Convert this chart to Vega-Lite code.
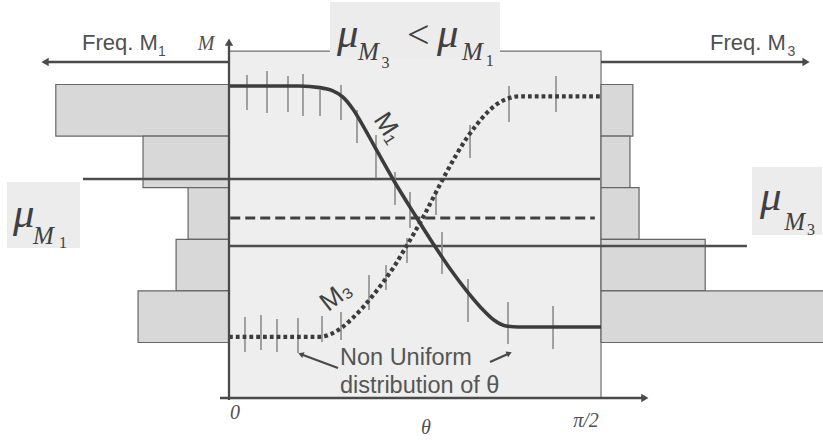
{
  "$schema": "https://vega.github.io/schema/vega-lite/v6.json",
  "width": 823,
  "height": 440,
  "padding": 0,
  "autosize": {"type": "none"},
  "background": "#ffffff",
  "config": {"view": {"stroke": null}, "axis": {"disable": true}, "legend": {"disable": true}},
  "datasets": {
    "label_boxes": [
      {"label": "title", "t0": 24.44, "t1": 65.56, "m0": 55.33, "m1": 65.99},
      {"label": "mu_M1", "t0": -53.71, "t1": -36.05, "m0": 18.31, "m1": 31.1},
      {"label": "mu_M3", "t0": 126.53, "t1": 143.5, "m0": 20.83, "m1": 34.01}
    ],
    "bins": [
      {"series": "M1", "lo": 40, "hi": 50, "freq": 41.9},
      {"series": "M1", "lo": 30, "hi": 40, "freq": 20.8},
      {"series": "M1", "lo": 20, "hi": 30, "freq": 9.9},
      {"series": "M1", "lo": 10, "hi": 20, "freq": 12.8},
      {"series": "M1", "lo": 0, "hi": 10, "freq": 22.0},
      {"series": "M3", "lo": 40, "hi": 50, "freq": 7.7},
      {"series": "M3", "lo": 30, "hi": 40, "freq": 7.0},
      {"series": "M3", "lo": 20, "hi": 30, "freq": 9.2},
      {"series": "M3", "lo": 10, "hi": 20, "freq": 25.2},
      {"series": "M3", "lo": 0, "hi": 10, "freq": 54.0}
    ],
    "levels": [
      {"level": "mu_M1", "M": 31.69, "from": -35.32, "to": 89.76},
      {"level": "mu_M3", "M": 18.7, "from": 0.24, "to": 125.3},
      {"level": "crossing", "M": 24.13, "from": 0.3, "to": 88.5}
    ],
    "curves": [
      {"curve": "M1", "theta": 0, "M": 49.7},
      {"curve": "M1", "theta": 17, "M": 49.7},
      {"curve": "M1", "theta": 22, "M": 49.4},
      {"curve": "M1", "theta": 25, "M": 48.8},
      {"curve": "M1", "theta": 27.5, "M": 47.6},
      {"curve": "M1", "theta": 30, "M": 45.2},
      {"curve": "M1", "theta": 32.5, "M": 41.9},
      {"curve": "M1", "theta": 35, "M": 38.3},
      {"curve": "M1", "theta": 40, "M": 31.2},
      {"curve": "M1", "theta": 45, "M": 24.7},
      {"curve": "M1", "theta": 50, "M": 18.4},
      {"curve": "M1", "theta": 54, "M": 13.7},
      {"curve": "M1", "theta": 57.5, "M": 10.0},
      {"curve": "M1", "theta": 61, "M": 6.7},
      {"curve": "M1", "theta": 64, "M": 4.4},
      {"curve": "M1", "theta": 67, "M": 3.2},
      {"curve": "M1", "theta": 70, "M": 3.0},
      {"curve": "M1", "theta": 90, "M": 3.0},
      {"curve": "M3", "theta": 0, "M": 1.1},
      {"curve": "M3", "theta": 22, "M": 1.1},
      {"curve": "M3", "theta": 24.5, "M": 1.6},
      {"curve": "M3", "theta": 27.5, "M": 3.0},
      {"curve": "M3", "theta": 30, "M": 4.8},
      {"curve": "M3", "theta": 32.5, "M": 6.9},
      {"curve": "M3", "theta": 35, "M": 9.3},
      {"curve": "M3", "theta": 37.5, "M": 11.9},
      {"curve": "M3", "theta": 40, "M": 14.8},
      {"curve": "M3", "theta": 42.5, "M": 18.1},
      {"curve": "M3", "theta": 45, "M": 21.5},
      {"curve": "M3", "theta": 47.5, "M": 25.1},
      {"curve": "M3", "theta": 50, "M": 29.0},
      {"curve": "M3", "theta": 52.5, "M": 32.8},
      {"curve": "M3", "theta": 55, "M": 36.4},
      {"curve": "M3", "theta": 57.5, "M": 39.6},
      {"curve": "M3", "theta": 60, "M": 42.3},
      {"curve": "M3", "theta": 62.5, "M": 44.6},
      {"curve": "M3", "theta": 65, "M": 46.3},
      {"curve": "M3", "theta": 67.5, "M": 47.3},
      {"curve": "M3", "theta": 70, "M": 47.7},
      {"curve": "M3", "theta": 90, "M": 47.7}
    ],
    "samples": [
      {"curve": "M1", "theta": 4.35, "lo": 45.06, "hi": 51.84},
      {"curve": "M1", "theta": 9.19, "lo": 44.48, "hi": 52.62},
      {"curve": "M1", "theta": 14.27, "lo": 44.67, "hi": 51.65},
      {"curve": "M1", "theta": 17.9, "lo": 43.9, "hi": 52.03},
      {"curve": "M1", "theta": 22.02, "lo": 43.9, "hi": 48.93},
      {"curve": "M1", "theta": 27.1, "lo": 43.12, "hi": 49.9},
      {"curve": "M1", "theta": 30.97, "lo": 38.66, "hi": 45.06},
      {"curve": "M1", "theta": 35.56, "lo": 31.88, "hi": 40.21},
      {"curve": "M1", "theta": 40.16, "lo": 26.65, "hi": 33.04},
      {"curve": "M1", "theta": 43.79, "lo": 22.19, "hi": 29.17},
      {"curve": "M1", "theta": 51.53, "lo": 13.28, "hi": 21.41},
      {"curve": "M1", "theta": 57.82, "lo": 3.97, "hi": 12.31},
      {"curve": "M1", "theta": 67.5, "lo": -0.29, "hi": 7.85},
      {"curve": "M1", "theta": 78.39, "lo": -1.26, "hi": 7.07},
      {"curve": "M3", "theta": 3.87, "lo": -1.84, "hi": 4.94},
      {"curve": "M3", "theta": 7.74, "lo": -1.45, "hi": 5.33},
      {"curve": "M3", "theta": 11.61, "lo": -1.84, "hi": 4.55},
      {"curve": "M3", "theta": 16.69, "lo": -2.03, "hi": 4.75},
      {"curve": "M3", "theta": 22.5, "lo": 0.1, "hi": 5.14},
      {"curve": "M3", "theta": 27.1, "lo": 0.48, "hi": 5.91},
      {"curve": "M3", "theta": 33.87, "lo": 6.3, "hi": 13.08},
      {"curve": "M3", "theta": 37.98, "lo": 10.17, "hi": 15.02},
      {"curve": "M3", "theta": 43.06, "lo": 15.41, "hi": 20.25},
      {"curve": "M3", "theta": 50.08, "lo": 24.71, "hi": 29.17},
      {"curve": "M3", "theta": 58.31, "lo": 35.76, "hi": 42.15},
      {"curve": "M3", "theta": 67.74, "lo": 42.73, "hi": 49.71},
      {"curve": "M3", "theta": 79.11, "lo": 44.67, "hi": 51.65}
    ],
    "arrows": [
      {"arrow": "M axis", "x0": 0, "y0": -11.15, "x1": 0, "y1": 58.2},
      {"arrow": "theta axis", "x0": -2.18, "y0": -10.76, "x1": 100.6, "y1": -10.76},
      {"arrow": "Freq. M1", "x0": -0.24, "y0": 54.36, "x1": -44.5, "y1": 54.36},
      {"arrow": "Freq. M3", "x0": 90, "y0": 54.36, "x1": 139.6, "y1": 54.36},
      {"arrow": "note left", "x0": 26.37, "y0": -4.94, "x1": 17.59, "y1": -2.33},
      {"arrow": "note right", "x0": 63.15, "y0": -3.78, "x1": 67.6, "y1": -2.17}
    ],
    "sans_labels": [
      {"text": "Freq. M", "theta": -35.56, "M": 56.69},
      {"text": "Freq. M", "theta": 116.37, "M": 56.69}
    ],
    "note_lines": [
      {"text": "Non Uniform", "theta": 26.85, "M": -4.36},
      {"text": "distribution of θ", "theta": 26.85, "M": -9.79}
    ],
    "sans_subs": [
      {"text": "1", "theta": -17.2, "M": 55.52},
      {"text": "3", "theta": 135.1, "M": 55.52}
    ],
    "axis_labels": [
      {"text": "M", "theta": -5.56, "M": 56.69},
      {"text": "0", "theta": 1.45, "M": -14.83},
      {"text": "θ", "theta": 47.66, "M": -17.73},
      {"text": "π/2", "theta": 86.37, "M": -16.38}
    ],
    "mu": [
      {"text": "μ", "theta": 26.13, "M": 57.27},
      {"text": "μ", "theta": 50.3, "M": 57.27},
      {"text": "μ", "theta": -52.26, "M": 22.38},
      {"text": "μ", "theta": 128.47, "M": 25.68}
    ],
    "mu_sub": [
      {"text": "M", "theta": 31.21, "M": 54.75},
      {"text": "M", "theta": 56.35, "M": 54.75},
      {"text": "M", "theta": -47.42, "M": 19.1},
      {"text": "M", "theta": 134.3, "M": 21.8}
    ],
    "mu_sub_digit": [
      {"text": "3", "theta": 36.9, "M": 53.2},
      {"text": "1", "theta": 62.1, "M": 53.5},
      {"text": "1", "theta": -41.1, "M": 18.3},
      {"text": "3", "theta": 139.8, "M": 20.9}
    ],
    "anchors": [
      {"item": "relation", "theta": 45.8, "M": 57.0},
      {"item": "M1 label", "theta": 38.47, "M": 41.57},
      {"item": "M3 label", "theta": 25.89, "M": 9.01}
    ],
    "region": [
      {"t0": 0, "t1": 90, "m0": -10.76, "m1": 56.49}
    ]
  },
  "layer": [
    {
      "data": {"name": "region"},
      "mark": {"type": "rect", "fill": "#eeeeee", "stroke": "#707070", "strokeWidth": 1.2},
      "encoding": {
        "x": {"field": "t0", "type": "quantitative", "scale": {"domain": [-55.4, 143.7], "nice": false, "zero": false}},
        "x2": {"field": "t1"},
        "y": {"field": "m0", "type": "quantitative", "scale": {"domain": [-18.9, 66.38], "nice": false, "zero": false}},
        "y2": {"field": "m1"}
      }
    },
    {
      "data": {"name": "label_boxes"},
      "mark": {"type": "rect", "fill": "#ececec"},
      "encoding": {
        "x": {"field": "t0", "type": "quantitative"},
        "x2": {"field": "t1"},
        "y": {"field": "m0", "type": "quantitative"},
        "y2": {"field": "m1"}
      }
    },
    {
      "data": {"name": "bins"},
      "transform": [{"filter": "datum.series === 'M1'"}, {"calculate": "-datum.freq", "as": "edge"}, {"calculate": "0", "as": "base"}],
      "mark": {"type": "rect", "fill": "#d8d8d8", "stroke": "#666666", "strokeWidth": 1.2},
      "encoding": {
        "x": {"field": "edge", "type": "quantitative"},
        "x2": {"field": "base"},
        "y": {"field": "lo", "type": "quantitative"},
        "y2": {"field": "hi"}
      }
    },
    {
      "data": {"name": "bins"},
      "transform": [{"filter": "datum.series === 'M3'"}, {"calculate": "90 + datum.freq", "as": "edge"}, {"calculate": "90", "as": "base"}],
      "mark": {"type": "rect", "fill": "#d8d8d8", "stroke": "#666666", "strokeWidth": 1.2},
      "encoding": {
        "x": {"field": "base", "type": "quantitative"},
        "x2": {"field": "edge"},
        "y": {"field": "lo", "type": "quantitative"},
        "y2": {"field": "hi"}
      }
    },
    {
      "data": {"name": "levels"},
      "transform": [{"filter": "datum.level !== 'crossing'"}],
      "mark": {"type": "rule", "color": "#4d4d4d", "strokeWidth": 2.6},
      "encoding": {
        "x": {"field": "from", "type": "quantitative"},
        "x2": {"field": "to"},
        "y": {"field": "M", "type": "quantitative"}
      }
    },
    {
      "data": {"name": "levels"},
      "transform": [{"filter": "datum.level === 'crossing'"}],
      "mark": {"type": "rule", "color": "#404040", "strokeWidth": 2.8, "strokeDash": [10, 5]},
      "encoding": {
        "x": {"field": "from", "type": "quantitative"},
        "x2": {"field": "to"},
        "y": {"field": "M", "type": "quantitative"}
      }
    },
    {
      "data": {"name": "samples"},
      "mark": {"type": "rule", "color": "#8c8c8c", "strokeWidth": 1.6},
      "encoding": {
        "x": {"field": "theta", "type": "quantitative"},
        "y": {"field": "lo", "type": "quantitative"},
        "y2": {"field": "hi"}
      }
    },
    {
      "data": {"name": "curves"},
      "transform": [{"filter": "datum.curve === 'M1'"}],
      "mark": {"type": "line", "interpolate": "monotone", "color": "#3c3c3c", "strokeWidth": 3.6},
      "encoding": {
        "x": {"field": "theta", "type": "quantitative"},
        "y": {"field": "M", "type": "quantitative"}
      }
    },
    {
      "data": {"name": "curves"},
      "transform": [{"filter": "datum.curve === 'M3'"}],
      "mark": {"type": "line", "interpolate": "monotone", "color": "#3c3c3c", "strokeWidth": 4.2, "strokeDash": [3.8, 3], "strokeCap": "butt"},
      "encoding": {
        "x": {"field": "theta", "type": "quantitative"},
        "y": {"field": "M", "type": "quantitative"}
      }
    },
    {
      "data": {"name": "arrows"},
      "mark": {"type": "rule", "color": "#4a4a4a", "strokeWidth": 2.3},
      "encoding": {
        "x": {"field": "x0", "type": "quantitative"},
        "x2": {"field": "x1"},
        "y": {"field": "y0", "type": "quantitative"},
        "y2": {"field": "y1"}
      }
    },
    {
      "data": {"name": "arrows"},
      "transform": [{"filter": "datum.arrow === 'M axis'"}],
      "mark": {"type": "point", "shape": "triangle-up", "filled": true, "size": 70, "color": "#4a4a4a", "opacity": 1},
      "encoding": {
        "x": {"field": "x1", "type": "quantitative"},
        "y": {"field": "y1", "type": "quantitative"}
      }
    },
    {
      "data": {"name": "arrows"},
      "transform": [{"filter": "datum.arrow === 'theta axis' || datum.arrow === 'Freq. M3'"}],
      "mark": {"type": "point", "shape": "triangle-right", "filled": true, "size": 70, "color": "#4a4a4a", "opacity": 1},
      "encoding": {
        "x": {"field": "x1", "type": "quantitative"},
        "y": {"field": "y1", "type": "quantitative"}
      }
    },
    {
      "data": {"name": "arrows"},
      "transform": [{"filter": "datum.arrow === 'Freq. M1'"}],
      "mark": {"type": "point", "shape": "triangle-left", "filled": true, "size": 70, "color": "#4a4a4a", "opacity": 1},
      "encoding": {
        "x": {"field": "x1", "type": "quantitative"},
        "y": {"field": "y1", "type": "quantitative"}
      }
    },
    {
      "data": {"name": "arrows"},
      "transform": [{"filter": "datum.arrow === 'note left'"}],
      "mark": {"type": "point", "shape": "triangle", "angle": 292, "filled": true, "size": 40, "color": "#4a4a4a", "opacity": 1},
      "encoding": {
        "x": {"field": "x1", "type": "quantitative"},
        "y": {"field": "y1", "type": "quantitative"}
      }
    },
    {
      "data": {"name": "arrows"},
      "transform": [{"filter": "datum.arrow === 'note right'"}],
      "mark": {"type": "point", "shape": "triangle", "angle": 66, "filled": true, "size": 40, "color": "#4a4a4a", "opacity": 1},
      "encoding": {
        "x": {"field": "x1", "type": "quantitative"},
        "y": {"field": "y1", "type": "quantitative"}
      }
    },
    {
      "data": {"name": "sans_labels"},
      "mark": {"type": "text", "font": "Liberation Sans", "fontSize": 22, "align": "left", "baseline": "alphabetic", "color": "#505050"},
      "encoding": {
        "x": {"field": "theta", "type": "quantitative"},
        "y": {"field": "M", "type": "quantitative"},
        "text": {"field": "text"}
      }
    },
    {
      "data": {"name": "note_lines"},
      "mark": {"type": "text", "font": "Liberation Sans", "fontSize": 23.5, "align": "left", "baseline": "alphabetic", "color": "#555555"},
      "encoding": {
        "x": {"field": "theta", "type": "quantitative"},
        "y": {"field": "M", "type": "quantitative"},
        "text": {"field": "text"}
      }
    },
    {
      "data": {"name": "sans_subs"},
      "mark": {"type": "text", "font": "Liberation Sans", "fontSize": 14, "align": "left", "baseline": "alphabetic", "color": "#505050"},
      "encoding": {
        "x": {"field": "theta", "type": "quantitative"},
        "y": {"field": "M", "type": "quantitative"},
        "text": {"field": "text"}
      }
    },
    {
      "data": {"name": "axis_labels"},
      "mark": {"type": "text", "font": "Liberation Serif", "fontStyle": "italic", "fontSize": 20, "align": "center", "baseline": "alphabetic", "color": "#505050"},
      "encoding": {
        "x": {"field": "theta", "type": "quantitative"},
        "y": {"field": "M", "type": "quantitative"},
        "text": {"field": "text"}
      }
    },
    {
      "data": {"name": "mu"},
      "mark": {"type": "text", "font": "Liberation Serif", "fontStyle": "italic", "fontSize": 43, "align": "left", "baseline": "alphabetic", "color": "#404040"},
      "encoding": {
        "x": {"field": "theta", "type": "quantitative"},
        "y": {"field": "M", "type": "quantitative"},
        "text": {"field": "text"}
      }
    },
    {
      "data": {"name": "mu_sub"},
      "mark": {"type": "text", "font": "Liberation Serif", "fontStyle": "italic", "fontSize": 25, "align": "left", "baseline": "alphabetic", "color": "#404040"},
      "encoding": {
        "x": {"field": "theta", "type": "quantitative"},
        "y": {"field": "M", "type": "quantitative"},
        "text": {"field": "text"}
      }
    },
    {
      "data": {"name": "mu_sub_digit"},
      "mark": {"type": "text", "font": "Liberation Serif", "fontSize": 16, "align": "left", "baseline": "alphabetic", "color": "#404040"},
      "encoding": {
        "x": {"field": "theta", "type": "quantitative"},
        "y": {"field": "M", "type": "quantitative"},
        "text": {"field": "text"}
      }
    },
    {
      "data": {"name": "anchors"},
      "transform": [{"filter": "datum.item === 'relation'"}],
      "mark": {"type": "text", "font": "Liberation Serif", "fontSize": 40, "align": "center", "baseline": "alphabetic", "color": "#404040", "text": "<"},
      "encoding": {
        "x": {"field": "theta", "type": "quantitative"},
        "y": {"field": "M", "type": "quantitative"}
      }
    },
    {
      "data": {"name": "anchors"},
      "transform": [{"filter": "datum.item === 'M1 label'"}],
      "mark": {"type": "text", "font": "Liberation Sans", "fontSize": 26, "align": "center", "baseline": "middle", "angle": 57, "color": "#404040", "text": "M₁"},
      "encoding": {
        "x": {"field": "theta", "type": "quantitative"},
        "y": {"field": "M", "type": "quantitative"}
      }
    },
    {
      "data": {"name": "anchors"},
      "transform": [{"filter": "datum.item === 'M3 label'"}],
      "mark": {"type": "text", "font": "Liberation Sans", "fontSize": 26, "align": "center", "baseline": "middle", "angle": -38, "color": "#404040", "text": "M₃"},
      "encoding": {
        "x": {"field": "theta", "type": "quantitative"},
        "y": {"field": "M", "type": "quantitative"}
      }
    }
  ]
}
